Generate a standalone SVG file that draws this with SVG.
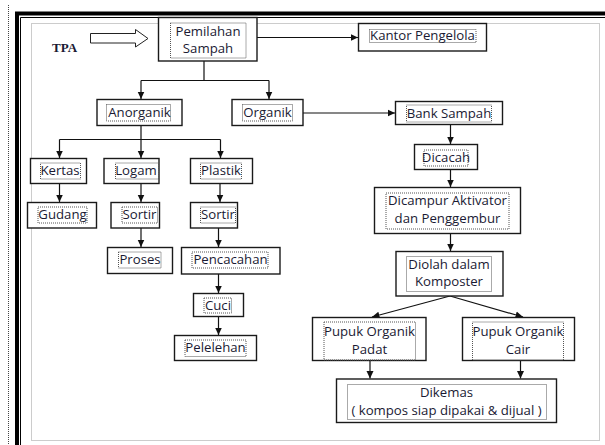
<svg xmlns="http://www.w3.org/2000/svg" width="605" height="445" viewBox="0 0 605 445">
<defs>
<marker id="ah" markerUnits="userSpaceOnUse" markerWidth="8" markerHeight="8" refX="7.5" refY="4" orient="auto">
<path d="M0,0.5 L7.5,4 L0,7.5 z" fill="#111"/>
</marker>
<style>
.box{fill:#fff;stroke:#1a1a1a;stroke-width:1.4}
.tb{fill:none;stroke:#555;stroke-width:1;stroke-dasharray:1 1}
.t{font-family:"Open Sans","Liberation Sans",sans-serif;font-size:13.2px;fill:#1a1a33;text-anchor:middle}
.c{stroke:#111;stroke-width:1.2;fill:none;marker-end:url(#ah)}
.l{stroke:#111;stroke-width:1.2;fill:none}
</style>
</defs>
<rect width="605" height="445" fill="#fff"/>
<g id="frame">
<path d="M8.5,5 V445" stroke="#444" stroke-width="1" stroke-dasharray="1 1" fill="none"/>
<path d="M17,445 V13.5 H605" stroke="#000" stroke-width="4" fill="none"/>
<path d="M20.5,445 V17.5 H605" stroke="#000" stroke-width="1" fill="none"/>
<rect x="31.5" y="23.5" width="568" height="417" fill="none" stroke="#999" stroke-width="1" stroke-dasharray="1 1"/>
</g>
<g id="tpa">
<text x="52" y="52" font-family="Liberation Serif,serif" font-weight="bold" font-size="13" fill="#1a1a33">TPA</text>
<polygon points="90.5,33.5 135.5,33.5 135.5,29.5 148,38.5 135.5,47 135.5,43 90.5,43" fill="#fff" stroke="#222" stroke-width="1"/>
</g>
<g id="connectors">
<path class="c" d="M257,37.5 H358"/>
<path class="l" d="M204,61 V80.5 M141,80.5 H269"/>
<path class="c" d="M141,80.5 V99"/>
<path class="c" d="M269,80.5 V99"/>
<path class="c" d="M303,113 H395"/>
<path class="c" d="M450.5,124.5 V144"/>
<path class="c" d="M450.5,169.5 V187"/>
<path class="c" d="M450.5,233.5 V251"/>
<path class="c" d="M450,296 L372,317"/>
<path class="c" d="M450,296 L523,317"/>
<path class="c" d="M370,360.5 V378.5"/>
<path class="c" d="M520.5,360.5 V378.5"/>
<path class="l" d="M141,125.5 V139.5 M59.5,139.5 H220.5"/>
<path class="c" d="M59.5,139.5 V158"/>
<path class="c" d="M141,139.5 V158"/>
<path class="c" d="M220.5,139.5 V158"/>
<path class="c" d="M59.5,183.5 V202"/>
<path class="c" d="M141,183.5 V202"/>
<path class="c" d="M141,228 V247"/>
<path class="c" d="M220,183.5 V202"/>
<path class="c" d="M218.5,228 V247"/>
<path class="c" d="M218.5,274 V293"/>
<path class="c" d="M218.5,316.5 V335"/>
</g>
<g id="pemilahan">
<rect class="box" x="158.5" y="17.5" width="98.5" height="43.5"/>
<rect class="tb" x="170.5" y="23" width="75.5" height="35"/>
<text class="t" x="208" y="36">Pemilahan</text>
<text class="t" x="208" y="52.5">Sampah</text>
</g>
<g id="kantor">
<rect class="box" x="358.5" y="23.5" width="128" height="27.5"/>
<rect class="tb" x="369.5" y="29.5" width="106.5" height="13"/>
<text class="t" x="422.5" y="40">Kantor Pengelola</text>
</g>
<g id="anorganik">
<rect class="box" x="97" y="99.5" width="85" height="26"/>
<rect class="tb" x="106.5" y="104.5" width="64" height="16.5"/>
<text class="t" x="139.5" y="117">Anorganik</text>
</g>
<g id="organik">
<rect class="box" x="232" y="99.5" width="71" height="26"/>
<rect class="tb" x="242.5" y="104.5" width="50" height="16.5"/>
<text class="t" x="267.5" y="117">Organik</text>
</g>
<g id="bank">
<rect class="box" x="395.5" y="101.5" width="107" height="23"/>
<rect class="tb" x="406.5" y="105" width="85" height="17"/>
<text class="t" x="449" y="118">Bank Sampah</text>
</g>
<g id="dicacah">
<rect class="box" x="414.5" y="144.5" width="63" height="25"/>
<rect class="tb" x="424" y="150" width="44" height="16"/>
<text class="t" x="446" y="162">Dicacah</text>
</g>
<g id="dicampur">
<rect class="box" x="374.5" y="187.5" width="146" height="46"/>
<rect class="tb" x="386" y="193" width="123" height="36"/>
<text class="t" x="447.5" y="205">Dicampur Aktivator</text>
<text class="t" x="447.5" y="222.5">dan Penggembur</text>
</g>
<g id="diolah">
<rect class="box" x="396" y="251.5" width="107" height="44.5"/>
<rect class="tb" x="406.5" y="256.5" width="85" height="35"/>
<text class="t" x="449" y="268.5">Diolah dalam</text>
<text class="t" x="449" y="286">Komposter</text>
</g>
<g id="padat">
<rect class="box" x="312.5" y="317.5" width="113.5" height="43"/>
<rect class="tb" x="324" y="322" width="91.5" height="38"/>
<text class="t" x="369.5" y="336">Pupuk Organik</text>
<text class="t" x="369.5" y="353.5">Padat</text>
</g>
<g id="cair">
<rect class="box" x="462.5" y="317.5" width="112" height="43"/>
<rect class="tb" x="472.5" y="322" width="91" height="38"/>
<text class="t" x="518" y="336">Pupuk Organik</text>
<text class="t" x="518" y="353.5">Cair</text>
</g>
<g id="dikemas">
<rect class="box" x="336.5" y="379" width="220" height="43.5"/>
<rect class="tb" x="347.5" y="384.5" width="199" height="35"/>
<text class="t" x="446.5" y="397">Dikemas</text>
<text class="t" x="446.5" y="415">( kompos siap dipakai &amp; dijual )</text>
</g>
<g id="kertas">
<rect class="box" x="30.5" y="158.5" width="56" height="25"/>
<rect class="tb" x="40.5" y="163" width="40" height="16"/>
<text class="t" x="60" y="175">Kertas</text>
</g>
<g id="logam">
<rect class="box" x="104" y="158.5" width="55" height="25"/>
<rect class="tb" x="115.5" y="163" width="43" height="16"/>
<text class="t" x="136" y="175">Logam</text>
</g>
<g id="plastik">
<rect class="box" x="190.5" y="158.5" width="62" height="25"/>
<rect class="tb" x="200.5" y="163" width="41" height="16"/>
<text class="t" x="221" y="175">Plastik</text>
</g>
<g id="gudang">
<rect class="box" x="27.5" y="202.5" width="69" height="25.5"/>
<rect class="tb" x="38" y="207" width="49" height="16"/>
<text class="t" x="62.5" y="219">Gudang</text>
</g>
<g id="sortir1">
<rect class="box" x="111" y="202.5" width="48.5" height="25.5"/>
<rect class="tb" x="122" y="207" width="35.5" height="16"/>
<text class="t" x="139.5" y="219">Sortir</text>
</g>
<g id="sortir2">
<rect class="box" x="190.5" y="202.5" width="47" height="25.5"/>
<rect class="tb" x="200.5" y="207" width="35" height="16"/>
<text class="t" x="218" y="219">Sortir</text>
</g>
<g id="proses">
<rect class="box" x="107.5" y="247.5" width="65" height="26"/>
<rect class="tb" x="118.5" y="252" width="42.5" height="16"/>
<text class="t" x="140" y="264">Proses</text>
</g>
<g id="pencacahan">
<rect class="box" x="181.5" y="247.5" width="98.5" height="26.5"/>
<rect class="tb" x="192" y="252" width="76" height="16"/>
<text class="t" x="230.5" y="264">Pencacahan</text>
</g>
<g id="cuci">
<rect class="box" x="193.5" y="293.5" width="50" height="23"/>
<rect class="tb" x="204" y="298" width="27.5" height="15"/>
<text class="t" x="218" y="309.5">Cuci</text>
</g>
<g id="pelelehan">
<rect class="box" x="174.5" y="335.5" width="82" height="25"/>
<rect class="tb" x="185" y="340" width="61" height="16.5"/>
<text class="t" x="215.5" y="352">Pelelehan</text>
</g>
</svg>
